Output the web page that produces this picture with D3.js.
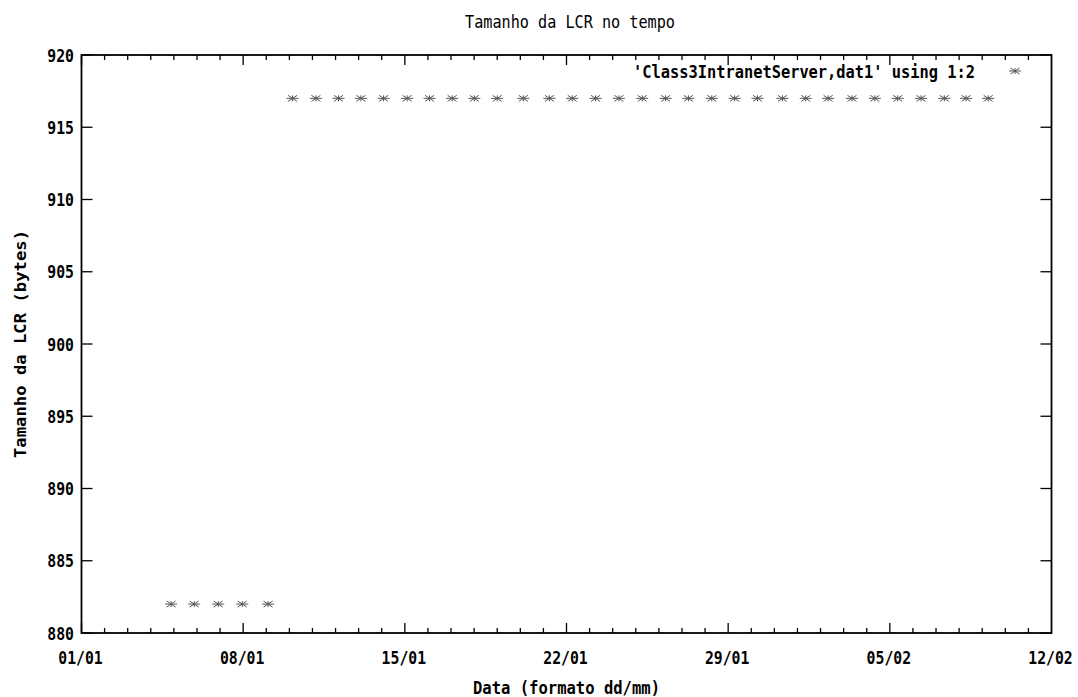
<!DOCTYPE html>
<html>
<head>
<meta charset="utf-8">
<script src="https://cdn.jsdelivr.net/npm/d3@7"></script>
<style>
  html, body { margin: 0; padding: 0; background: #fff; }
  svg { display: block; }
  text { font-family: "DejaVu Sans Mono", "Liberation Mono", monospace; fill: #000; }
</style>
</head>
<body>
<svg id="chart" width="1078" height="697"></svg>
<script>
// Sample times (dd/mm hh:mm) and LCR size in bytes
const sampleTimes = [
  "04/01 21:07", "05/01 21:07", "06/01 22:05", "07/01 23:02", "09/01 01:55",
  "10/01 03:22", "11/01 03:36", "12/01 03:07", "13/01 02:24", "14/01 01:55",
  "15/01 02:24", "16/01 01:41", "17/01 01:12", "18/01 00:14", "19/01 00:00",
  "20/01 03:07", "21/01 06:14", "22/01 06:00", "23/01 06:14", "24/01 06:29",
  "25/01 06:43", "26/01 06:58", "27/01 06:43", "28/01 06:58", "29/01 06:43",
  "30/01 06:29", "31/01 08:24", "01/02 08:38", "02/02 07:55", "03/02 08:38",
  "04/02 08:24", "05/02 08:10", "06/02 08:24", "07/02 08:38", "08/02 07:12",
  "09/02 06:14"
];
const lcrSizes = [
  882, 882, 882, 882, 882,
  917, 917, 917, 917, 917,
  917, 917, 917, 917, 917,
  917, 917, 917, 917, 917,
  917, 917, 917, 917, 917,
  917, 917, 917, 917, 917,
  917, 917, 917, 917, 917,
  917
];
const xTickLabels = ["01/01", "08/01", "15/01", "22/01", "29/01", "05/02", "12/02"];
const yTickValues = [880, 885, 890, 895, 900, 905, 910, 915, 920];

const titleText = "Tamanho da LCR no tempo";
const xLabelText = "Data (formato dd/mm)";
const yLabelText = "Tamanho da LCR (bytes)";
const legendText = "'Class3IntranetServer,dat1' using 1:2";

const parseTime = d3.utcParse("%d/%m %H:%M");
const parseDay = d3.utcParse("%d/%m");

const svg = d3.select("#chart");
const plot = { left: 81.5, right: 1051.5, top: 55, bottom: 633 };

const x = d3.scaleUtc()
  .domain([parseDay(xTickLabels[0]), parseDay(xTickLabels[xTickLabels.length - 1])])
  .range([plot.left, plot.right]);
const y = d3.scaleLinear()
  .domain([880, 920])
  .range([plot.bottom, plot.top]);

const data = sampleTimes.map((t, i) => ({ t: parseTime(t), v: lcrSizes[i] }));
const majorDates = xTickLabels.map(parseDay);
const minorDates = d3.utcDay.range(x.domain()[0], x.domain()[1]);

// narrow, tall glyphs for the tick labels
const labelScale = "scale(0.924,1.085)";

// day ticks (minor) and week ticks (major) on bottom and top edges
const ticks = svg.append("g").attr("stroke", "#000").attr("stroke-width", 1.3);
minorDates.forEach(d => {
  const isMajor = majorDates.some(m => +m === +d);
  const len = isMajor ? 10 : 5;
  ticks.append("line").attr("x1", x(d)).attr("x2", x(d))
    .attr("y1", plot.bottom).attr("y2", plot.bottom - len);
  ticks.append("line").attr("x1", x(d)).attr("x2", x(d))
    .attr("y1", plot.top).attr("y2", plot.top + len);
});
yTickValues.forEach(v => {
  ticks.append("line").attr("x1", plot.left).attr("x2", plot.left + 11)
    .attr("y1", y(v)).attr("y2", y(v));
  ticks.append("line").attr("x1", plot.right).attr("x2", plot.right - 11)
    .attr("y1", y(v)).attr("y2", y(v));
});

// frame
svg.append("rect")
  .attr("x", plot.left).attr("y", plot.top)
  .attr("width", plot.right - plot.left).attr("height", plot.bottom - plot.top)
  .attr("fill", "none").attr("stroke", "#000").attr("stroke-width", 1.8);

// tick labels
const yAxisLabels = svg.append("g");
yTickValues.forEach(v => {
  yAxisLabels.append("text")
    .attr("transform", `translate(74,${y(v) + 6.6}) ${labelScale}`)
    .attr("text-anchor", "end")
    .attr("font-size", 16).attr("font-weight", "bold")
    .text(String(v));
});
const xAxisLabels = svg.append("g");
xTickLabels.forEach((s, i) => {
  xAxisLabels.append("text")
    .attr("transform", `translate(${x(majorDates[i]) - 1},663.6) ${labelScale}`)
    .attr("text-anchor", "middle")
    .attr("font-size", 16).attr("font-weight", "bold")
    .text(s);
});

// title and axis titles
svg.append("text")
  .attr("x", 570).attr("y", 28)
  .attr("text-anchor", "middle").attr("font-size", 18)
  .attr("textLength", 210).attr("lengthAdjust", "spacingAndGlyphs")
  .text(titleText);
svg.append("text")
  .attr("x", (plot.left + plot.right) / 2).attr("y", 694)
  .attr("text-anchor", "middle").attr("font-size", 18).attr("font-weight", "bold")
  .attr("textLength", 187).attr("lengthAdjust", "spacingAndGlyphs")
  .text(xLabelText);
svg.append("text")
  .attr("transform", `translate(26, ${(plot.top + plot.bottom) / 2}) rotate(-90)`)
  .attr("text-anchor", "middle").attr("font-size", 16.5).attr("font-weight", "bold")
  .attr("textLength", 228).attr("lengthAdjust", "spacingAndGlyphs")
  .text(yLabelText);

// asterisk point marker
const starPath = "M-6,0H6M0,-3V3M-4.5,-3L4.5,3M-4.5,3L4.5,-3";

svg.append("g")
  .attr("stroke", "#555").attr("stroke-width", 1).attr("fill", "none")
  .selectAll("path")
  .data(data)
  .join("path")
  .attr("transform", d => `translate(${x(d.t)},${y(d.v)})`)
  .attr("d", starPath);

// legend
svg.append("text")
  .attr("x", 975).attr("y", 78)
  .attr("text-anchor", "end").attr("font-size", 18)
  .attr("font-weight", 600)
  .attr("textLength", 342).attr("lengthAdjust", "spacingAndGlyphs")
  .text(legendText);
svg.append("path")
  .attr("transform", "translate(1015,71)")
  .attr("d", starPath)
  .attr("stroke", "#555").attr("stroke-width", 1).attr("fill", "none");
</script>
</body>
</html>
